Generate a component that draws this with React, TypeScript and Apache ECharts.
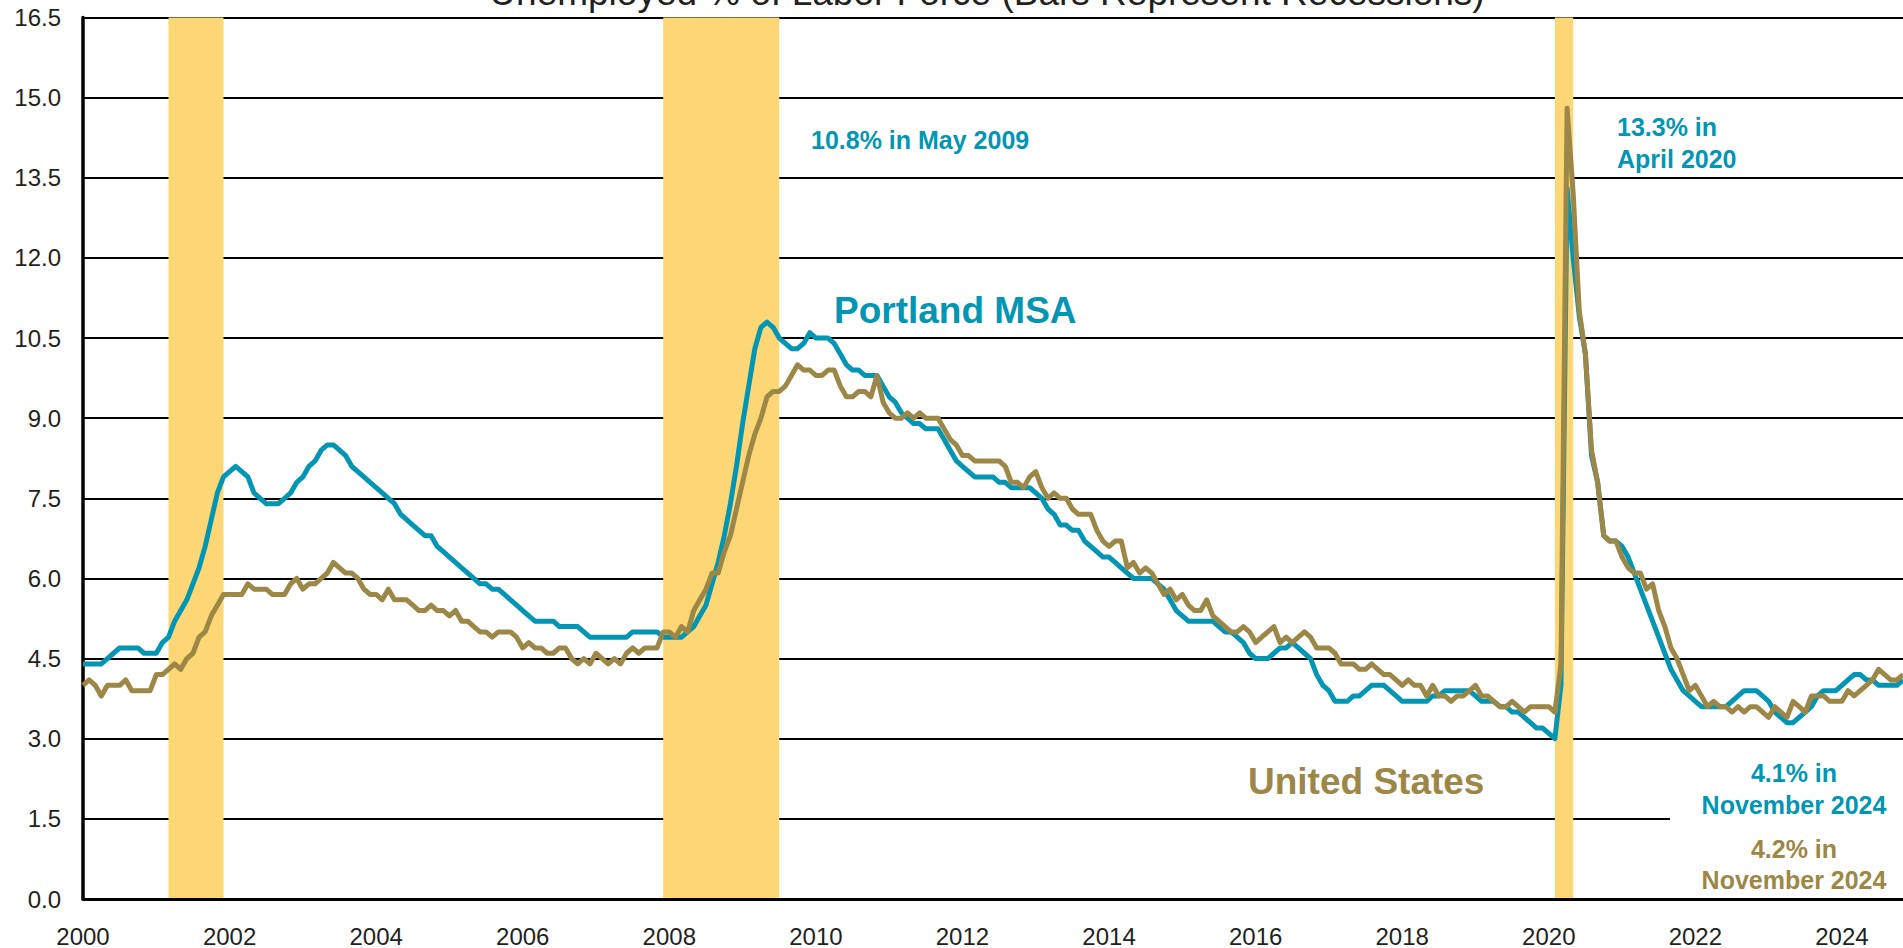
import React, { useEffect, useRef } from "react";
import * as echarts from "echarts";

const startYear = 2000;

// Portland MSA unemployment rate (%), monthly Jan 2000 – Nov 2024
const portland = [
  4.4, 4.4, 4.4, 4.4, 4.5, 4.6, 4.7, 4.7, 4.7, 4.7, 4.6, 4.6,
  4.6, 4.8, 4.9, 5.2, 5.4, 5.6, 5.9, 6.2, 6.6, 7.1, 7.6, 7.9,
  8.0, 8.1, 8.0, 7.9, 7.6, 7.5, 7.4, 7.4, 7.4, 7.5, 7.6, 7.8,
  7.9, 8.1, 8.2, 8.4, 8.5, 8.5, 8.4, 8.3, 8.1, 8.0, 7.9, 7.8,
  7.7, 7.6, 7.5, 7.4, 7.2, 7.1, 7.0, 6.9, 6.8, 6.8, 6.6, 6.5,
  6.4, 6.3, 6.2, 6.1, 6.0, 5.9, 5.9, 5.8, 5.8, 5.7, 5.6, 5.5,
  5.4, 5.3, 5.2, 5.2, 5.2, 5.2, 5.1, 5.1, 5.1, 5.1, 5.0, 4.9,
  4.9, 4.9, 4.9, 4.9, 4.9, 4.9, 5.0, 5.0, 5.0, 5.0, 5.0, 4.9,
  4.9, 4.9, 4.9, 5.0, 5.1, 5.3, 5.5, 5.9, 6.3, 6.8, 7.4, 8.1,
  8.9, 9.6, 10.3, 10.7, 10.8, 10.7, 10.5, 10.4, 10.3, 10.3, 10.4, 10.6,
  10.5, 10.5, 10.5, 10.4, 10.2, 10.0, 9.9, 9.9, 9.8, 9.8, 9.8, 9.6,
  9.4, 9.3, 9.1, 9.0, 8.9, 8.9, 8.8, 8.8, 8.8, 8.6, 8.4, 8.2,
  8.1, 8.0, 7.9, 7.9, 7.9, 7.9, 7.8, 7.8, 7.7, 7.7, 7.7, 7.7,
  7.6, 7.5, 7.3, 7.2, 7.0, 7.0, 6.9, 6.9, 6.7, 6.6, 6.5, 6.4,
  6.4, 6.3, 6.2, 6.1, 6.0, 6.0, 6.0, 6.0, 5.9, 5.8, 5.6, 5.4,
  5.3, 5.2, 5.2, 5.2, 5.2, 5.2, 5.1, 5.0, 5.0, 4.9, 4.8, 4.6,
  4.5, 4.5, 4.5, 4.6, 4.7, 4.7, 4.8, 4.7, 4.6, 4.5, 4.2, 4.0,
  3.9, 3.7, 3.7, 3.7, 3.8, 3.8, 3.9, 4.0, 4.0, 4.0, 3.9, 3.8,
  3.7, 3.7, 3.7, 3.7, 3.7, 3.8, 3.8, 3.9, 3.9, 3.9, 3.9, 3.9,
  3.8, 3.7, 3.7, 3.7, 3.6, 3.6, 3.5, 3.5, 3.4, 3.3, 3.2, 3.2,
  3.1, 3.0, 4.0, 13.3, 12.0, 10.9, 10.2, 8.3, 7.8, 6.8, 6.7, 6.7,
  6.6, 6.4, 6.1, 5.8, 5.5, 5.2, 4.9, 4.6, 4.3, 4.1, 3.9, 3.8,
  3.7, 3.6, 3.6, 3.6, 3.6, 3.6, 3.7, 3.8, 3.9, 3.9, 3.9, 3.8,
  3.7, 3.5, 3.4, 3.3, 3.3, 3.4, 3.5, 3.6, 3.8, 3.9, 3.9, 3.9,
  4.0, 4.1, 4.2, 4.2, 4.1, 4.1, 4.0, 4.0, 4.0, 4.0, 4.1,
];

// United States unemployment rate (%), monthly Jan 2000 – Nov 2024
const unitedStates = [
  4.0, 4.1, 4.0, 3.8, 4.0, 4.0, 4.0, 4.1, 3.9, 3.9, 3.9, 3.9,
  4.2, 4.2, 4.3, 4.4, 4.3, 4.5, 4.6, 4.9, 5.0, 5.3, 5.5, 5.7,
  5.7, 5.7, 5.7, 5.9, 5.8, 5.8, 5.8, 5.7, 5.7, 5.7, 5.9, 6.0,
  5.8, 5.9, 5.9, 6.0, 6.1, 6.3, 6.2, 6.1, 6.1, 6.0, 5.8, 5.7,
  5.7, 5.6, 5.8, 5.6, 5.6, 5.6, 5.5, 5.4, 5.4, 5.5, 5.4, 5.4,
  5.3, 5.4, 5.2, 5.2, 5.1, 5.0, 5.0, 4.9, 5.0, 5.0, 5.0, 4.9,
  4.7, 4.8, 4.7, 4.7, 4.6, 4.6, 4.7, 4.7, 4.5, 4.4, 4.5, 4.4,
  4.6, 4.5, 4.4, 4.5, 4.4, 4.6, 4.7, 4.6, 4.7, 4.7, 4.7, 5.0,
  5.0, 4.9, 5.1, 5.0, 5.4, 5.6, 5.8, 6.1, 6.1, 6.5, 6.8, 7.3,
  7.8, 8.3, 8.7, 9.0, 9.4, 9.5, 9.5, 9.6, 9.8, 10.0, 9.9, 9.9,
  9.8, 9.8, 9.9, 9.9, 9.6, 9.4, 9.4, 9.5, 9.5, 9.4, 9.8, 9.3,
  9.1, 9.0, 9.0, 9.1, 9.0, 9.1, 9.0, 9.0, 9.0, 8.8, 8.6, 8.5,
  8.3, 8.3, 8.2, 8.2, 8.2, 8.2, 8.2, 8.1, 7.8, 7.8, 7.7, 7.9,
  8.0, 7.7, 7.5, 7.6, 7.5, 7.5, 7.3, 7.2, 7.2, 7.2, 6.9, 6.7,
  6.6, 6.7, 6.7, 6.2, 6.3, 6.1, 6.2, 6.1, 5.9, 5.7, 5.8, 5.6,
  5.7, 5.5, 5.4, 5.4, 5.6, 5.3, 5.2, 5.1, 5.0, 5.0, 5.1, 5.0,
  4.8, 4.9, 5.0, 5.1, 4.8, 4.9, 4.8, 4.9, 5.0, 4.9, 4.7, 4.7,
  4.7, 4.6, 4.4, 4.4, 4.4, 4.3, 4.3, 4.4, 4.3, 4.2, 4.2, 4.1,
  4.0, 4.1, 4.0, 4.0, 3.8, 4.0, 3.8, 3.8, 3.7, 3.8, 3.8, 3.9,
  4.0, 3.8, 3.8, 3.7, 3.6, 3.6, 3.7, 3.6, 3.5, 3.6, 3.6, 3.6,
  3.6, 3.5, 4.4, 14.8, 13.2, 11.0, 10.2, 8.4, 7.8, 6.8, 6.7, 6.7,
  6.4, 6.2, 6.1, 6.1, 5.8, 5.9, 5.4, 5.1, 4.7, 4.5, 4.2, 3.9,
  4.0, 3.8, 3.6, 3.7, 3.6, 3.6, 3.5, 3.6, 3.5, 3.6, 3.6, 3.5,
  3.4, 3.6, 3.5, 3.4, 3.7, 3.6, 3.5, 3.8, 3.8, 3.8, 3.7, 3.7,
  3.7, 3.9, 3.8, 3.9, 4.0, 4.1, 4.3, 4.2, 4.1, 4.1, 4.2,
];

// Recession periods (start month, end month)
const recessions: [string, string][] = [
  ["2001-03", "2001-12"],
  ["2007-12", "2009-07"],
  ["2020-02", "2020-05"],
];

const yMin = 0;
const yMax = 16.5;
const yStep = 1.5;

const months = portland.map(
  (_, i) => `${startYear + Math.floor(i / 12)}-${String((i % 12) + 1).padStart(2, "0")}`
);

const BLUE = "#0396B4";
const OLIVE = "#9C8746";
const BAR = "#FDD775";
const INK = "#231F20";
const FONT = '"Liberation Sans", Arial, Helvetica, sans-serif';

const txt = (
  text: string,
  x: number,
  y: number,
  color: string,
  size: number,
  align: string = "left",
  weight: string = "bold"
) => ({
  type: "text",
  x,
  y,
  z: 20,
  silent: true,
  style: {
    text,
    fill: color,
    font: `${weight} ${size}px ${FONT}`,
    textAlign: align,
    textVerticalAlign: "middle",
    align,
    verticalAlign: "middle",
  },
});

export default function App() {
  const ref = useRef<HTMLDivElement>(null);

  useEffect(() => {
    if (!ref.current) return;
    const chart = echarts.init(ref.current, null, { renderer: "svg" });
    const option: any = {
      animation: false,
      backgroundColor: "#ffffff",
      grid: { left: 83, right: 0, top: 17.5, bottom: 46, containLabel: false },
      xAxis: {
        type: "category",
        data: months,
        boundaryGap: false,
        z: 6,
        axisLine: { show: true, lineStyle: { color: "#000", width: 3 } },
        axisTick: { show: false },
        splitLine: { show: false },
        axisLabel: {
          interval: (i: number) => i % 24 === 0,
          formatter: (v: string) => v.slice(0, 4),
          color: INK,
          fontSize: 24,
          fontFamily: FONT,
          margin: 25,
          hideOverlap: false,
        },
      },
      yAxis: {
        type: "value",
        min: yMin,
        max: yMax,
        interval: yStep,
        axisLine: { show: true, lineStyle: { color: "#000", width: 3.5 } },
        axisTick: { show: false },
        axisLabel: {
          formatter: (v: number) => v.toFixed(1),
          color: INK,
          fontSize: 24,
          fontFamily: FONT,
          margin: 22,
        },
        splitLine: { show: true, lineStyle: { color: "#000", width: 2 } },
      },
      series: [
        {
          name: "Recessions",
          type: "line",
          data: [],
          z: 1,
          silent: true,
          markArea: {
            silent: true,
            itemStyle: { color: BAR, opacity: 1 },
            data: recessions.map(([a, b]) => [{ xAxis: a }, { xAxis: b }]),
          },
        },
        {
          name: "Portland MSA",
          type: "line",
          data: portland,
          symbol: "none",
          showSymbol: false,
          z: 3,
          lineStyle: { color: BLUE, width: 5, join: "round" },
          itemStyle: { color: BLUE },
        },
        {
          name: "United States",
          type: "line",
          data: unitedStates,
          symbol: "none",
          showSymbol: false,
          z: 4,
          lineStyle: { color: OLIVE, width: 5, join: "round" },
          itemStyle: { color: OLIVE },
        },
      ],
      graphic: [
        {
          type: "rect",
          z: 1,
          silent: true,
          shape: { x: 1670, y: 748, width: 240, height: 152 },
          style: { fill: "#ffffff" },
        },
        txt("Unemployed % of Labor Force (Bars Represent Recessions)", 987, -8, INK, 37, "center", "normal"),
        txt("10.8% in May 2009", 811, 140, BLUE, 25),
        txt("Portland MSA", 834, 310, BLUE, 37),
        txt("United States", 1248, 781, OLIVE, 37),
        txt("13.3% in", 1617, 127, BLUE, 25),
        txt("April 2020", 1617, 159, BLUE, 25),
        txt("4.1% in", 1794, 773, BLUE, 25, "center"),
        txt("November 2024", 1794, 804.5, BLUE, 25, "center"),
        txt("4.2% in", 1794, 849, OLIVE, 25, "center"),
        txt("November 2024", 1794, 880, OLIVE, 25, "center"),
      ],
    };
    chart.setOption(option);
    return () => {
      chart.dispose();
    };
  }, []);

  return (
    <div
      ref={ref}
      style={{ position: "fixed", left: 0, top: 0, width: 1903, height: 948, background: "#fff" }}
    />
  );
}
